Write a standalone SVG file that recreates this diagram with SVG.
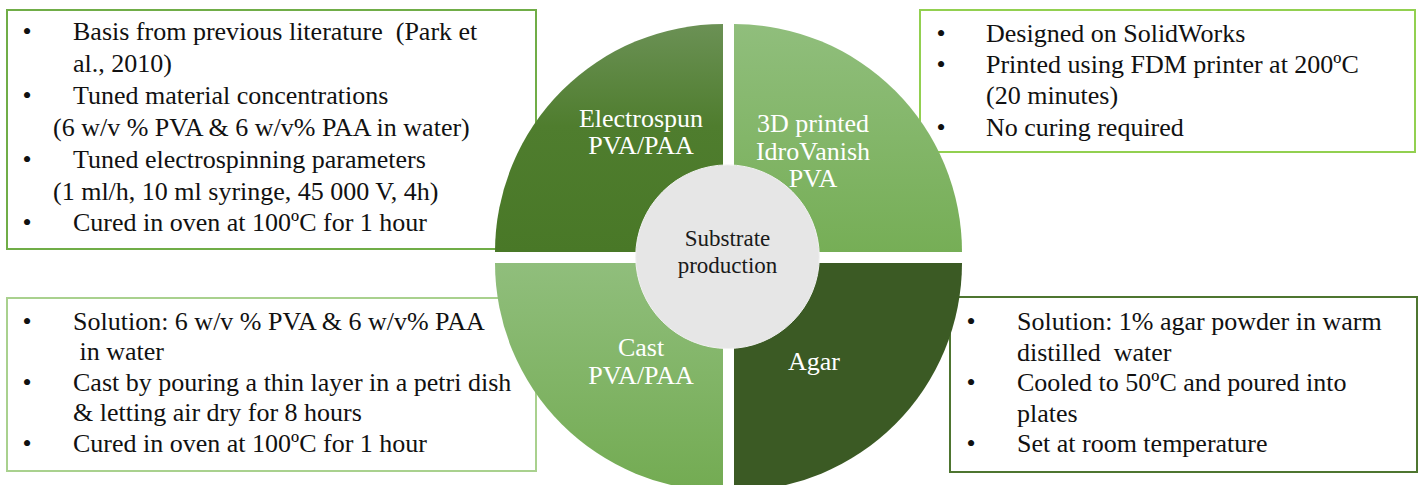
<svg xmlns="http://www.w3.org/2000/svg" width="1423" height="485" viewBox="0 0 1423 485">
  <style>
    .box { fill: #ffffff; stroke-width: 2; }
    .body { font-family: "Liberation Serif", "Times New Roman", serif; font-size: 26px; fill: #111111; white-space: pre; }
    .bullet { text-anchor: middle; }
    .label { font-family: "Liberation Serif", "Times New Roman", serif; font-size: 26px; fill: #ffffff; text-anchor: middle; }
    .hub { font-family: "Liberation Serif", "Times New Roman", serif; font-size: 23px; fill: #1a1a1a; text-anchor: middle; }
  </style>
  <defs>
    <linearGradient id="gDark" x1="0" y1="0" x2="0" y2="1">
      <stop offset="0" stop-color="#6b9155"/>
      <stop offset="0.45" stop-color="#4f7d2e"/>
      <stop offset="1" stop-color="#497827"/>
    </linearGradient>
    <linearGradient id="gLightTop" x1="0" y1="0" x2="0" y2="1">
      <stop offset="0" stop-color="#90be7c"/>
      <stop offset="1" stop-color="#76ae56"/>
    </linearGradient>
    <linearGradient id="gLightBottom" x1="0" y1="0" x2="0" y2="1">
      <stop offset="0" stop-color="#90be7c"/>
      <stop offset="1" stop-color="#73ab52"/>
    </linearGradient>
  </defs>

  <!-- description boxes (drawn first, the wheel overlaps them) -->
  <g id="box-electrospun">
    <rect class="box" x="7" y="10" width="529" height="239" stroke="#70ad47"/>
    <text class="body bullet" x="27" y="39.5">•</text>
    <text class="body" x="73" y="39.5">Basis from previous literature  (Park et</text>
    <text class="body" x="73" y="71.5">al., 2010)</text>
    <text class="body bullet" x="27" y="103.5">•</text>
    <text class="body" x="73" y="103.5">Tuned material concentrations</text>
    <text class="body" x="53" y="135.5">(6 w/v % PVA &amp; 6 w/v% PAA in water)</text>
    <text class="body bullet" x="27" y="167.5">•</text>
    <text class="body" x="73" y="167.5">Tuned electrospinning parameters</text>
    <text class="body" x="53" y="199.5">(1 ml/h, 10 ml syringe, 45 000 V, 4h)</text>
    <text class="body bullet" x="27" y="231">•</text>
    <text class="body" x="73" y="231">Cured in oven at 100ºC for 1 hour</text>
  </g>

  <g id="box-printed">
    <rect class="box" x="920" y="10" width="495" height="142" stroke="#92d050"/>
    <text class="body bullet" x="941" y="42">•</text>
    <text class="body" x="986" y="42">Designed on SolidWorks</text>
    <text class="body bullet" x="941" y="73">•</text>
    <text class="body" x="986" y="73">Printed using FDM printer at 200ºC</text>
    <text class="body" x="986" y="104">(20 minutes)</text>
    <text class="body bullet" x="941" y="135.5">•</text>
    <text class="body" x="986" y="135.5">No curing required</text>
  </g>

  <g id="box-cast">
    <rect class="box" x="7" y="298" width="529" height="173" stroke="#a9d18e"/>
    <text class="body bullet" x="27" y="329.5">•</text>
    <text class="body" x="73" y="329.5">Solution: 6 w/v % PVA &amp; 6 w/v% PAA</text>
    <text class="body" x="73" y="360"> in water</text>
    <text class="body bullet" x="27" y="390.5">•</text>
    <text class="body" x="73" y="390.5">Cast by pouring a thin layer in a petri dish</text>
    <text class="body" x="73" y="421">&amp; letting air dry for 8 hours</text>
    <text class="body bullet" x="27" y="451.5">•</text>
    <text class="body" x="73" y="451.5">Cured in oven at 100ºC for 1 hour</text>
  </g>

  <g id="box-agar">
    <rect class="box" x="950" y="297" width="467" height="175" stroke="#4e7530"/>
    <text class="body bullet" x="971" y="330">•</text>
    <text class="body" x="1017" y="330">Solution: 1% agar powder in warm</text>
    <text class="body" x="1017" y="360.5">distilled  water</text>
    <text class="body bullet" x="971" y="391">•</text>
    <text class="body" x="1017" y="391">Cooled to 50ºC and poured into</text>
    <text class="body" x="1017" y="421.5">plates</text>
    <text class="body bullet" x="971" y="452">•</text>
    <text class="body" x="1017" y="452">Set at room temperature</text>
  </g>

  <!-- wheel quadrants -->
  <g id="quadrant-electrospun">
    <path d="M 723 252 L 495 252 A 228 228 0 0 1 723 24 Z" fill="url(#gDark)"/>
    <text class="label" x="641" y="127">Electrospun</text>
    <text class="label" x="641" y="154">PVA/PAA</text>
  </g>
  <g id="quadrant-printed">
    <path d="M 734 252 L 734 24 A 228 228 0 0 1 962 252 Z" fill="url(#gLightTop)"/>
    <text class="label" x="813" y="132">3D printed</text>
    <text class="label" x="813" y="159.5">IdroVanish</text>
    <text class="label" x="813" y="187">PVA</text>
  </g>
  <g id="quadrant-cast">
    <path d="M 723 263 L 723 491 A 228 228 0 0 1 495 263 Z" fill="url(#gLightBottom)"/>
    <text class="label" x="641" y="356">Cast</text>
    <text class="label" x="641" y="384">PVA/PAA</text>
  </g>
  <g id="quadrant-agar">
    <path d="M 734 263 L 962 263 A 228 228 0 0 1 734 491 Z" fill="#3b5a24"/>
    <text class="label" x="814" y="370">Agar</text>
  </g>

  <!-- hub -->
  <g id="hub">
    <circle cx="727.5" cy="256.7" r="91.8" fill="#e6e6e6" stroke="#f2f2f2" stroke-width="1"/>
    <text class="hub" x="727.5" y="246">Substrate</text>
    <text class="hub" x="727.5" y="272.5">production</text>
  </g>

  <g id="connectors"/>
</svg>
